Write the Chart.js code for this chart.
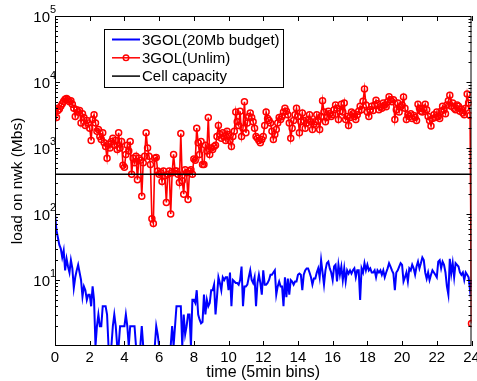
<!DOCTYPE html>
<html>
<head>
<meta charset="utf-8">
<script src="https://cdn.jsdelivr.net/npm/chart.js@4.4.1/dist/chart.umd.min.js"></script>
<style>
  html, body { margin: 0; padding: 0; background: #fff; }
  canvas { display: block; }
</style>
</head>
<body>
<canvas id="chart" width="477" height="381"></canvas>
<script>
// time axis: 5 min bins over 24 hours (289 samples, 0..24)
const xTicks = [0, 2, 4, 6, 8, 10, 12, 14, 16, 18, 20, 22, 24];
const yExponents = [1, 2, 3, 4, 5];
const capacity = 400;

// 3GOL(Unlim), Mbs, one row per hour
const unlim = [
  4000, 2900, 3700, 3900, 4300, 4700, 5100, 5500, 5600, 5400, 5000, 5200,
  4600, 4000, 3000, 3800, 3500, 3700, 2400, 3300, 2900, 2200, 2600, 2400,
  2000, 1300, 2700, 3200, 2400, 1800, 1900, 1500, 1350, 1700, 1200, 1050,
  700, 1150, 1000, 1250, 1400, 1100, 1300, 950, 1700, 1000, 1250, 550,
  510, 800, 1100, 900, 1250, 400, 700, 600, 750, 330, 700, 650,
  186, 600, 750, 1700, 1000, 750, 560, 85, 72, 700, 720, 450,
  400, 420, 310, 450, 380, 150, 400, 450, 100, 420, 800, 450,
  450, 400, 300, 1660, 320, 200, 470, 420, 166, 450, 470, 400,
  680, 650, 2000, 1200, 800, 1260, 560, 560, 1100, 900, 2900, 800,
  1000, 950, 1050, 1100, 1500, 2200, 1600, 1400, 1700, 1500, 1300, 1800,
  1600, 1300, 1050, 1500, 1800, 3500, 2500, 2200, 3600, 1500, 2000, 5000,
  1700, 2400, 3000, 3400, 2900, 2500, 2000, 1500, 1400, 1300, 1200, 1350,
  1500, 2200, 3500, 2800, 2600, 2400, 1800, 1350, 1600, 1900, 2400, 2900,
  2700, 3000, 3500, 4000, 3600, 3200, 2400, 1400, 2000, 2600, 3200, 4000,
  3000, 1700, 2500, 3400, 2600, 2000, 2400, 2700, 3200, 2500, 1900, 2300,
  2500, 3200, 2600, 1900, 3000, 5200, 3500, 2500, 2900, 3600, 3300, 3000,
  3200, 3800, 4500, 4000, 2700, 3600, 4600, 3500, 4800, 2700, 3000, 2200,
  2900, 3500, 3300, 3000, 2700, 3200, 3600, 4300, 3800, 5100, 7800, 4500,
  3500, 3000, 3800, 4300, 3700, 4500, 5300, 4700, 3800, 4200, 4000, 4800,
  4500, 4200, 5000, 6000, 5400, 5000, 5400, 2700, 3800, 4800, 3500, 4200,
  4500, 5900, 4000, 2700, 3200, 3000, 3300, 2800, 3100, 2900, 2600, 4600,
  4000, 3600, 3500, 4000, 4600, 3800, 3000, 2600, 2150, 2800, 3200, 2900,
  3500, 3000, 2800, 3600, 4300, 3800, 3300, 4500, 5200, 6300, 4300, 4800,
  4000, 3800, 4500, 4300, 3600, 3900, 3400, 3200, 4000, 6600, 4800, 3100, 2.2
];

// 3GOL(20Mb budget), Mbs
const budget = [
  100, 57, 44, 34, 30, 22, 28, 14, 21, 16, 13, 20,
  15, 7.6, 11, 14, 17, 13, 10, 5.6, 8, 7, 5, 6,
  6, 4, 8, 5, 1, 2, 3, 2, 2, 4, 4, 4,
  3, 1, 1, 1, 2, 3, 2, 1, 1, 2, 2, 2,
  2, 3, 2, 1, 2, 2, 2, 2, 1, 1, 1, 1,
  2, 1, 1, 1, 1, 1, 1, 1, 1, 1, 2, 1.5,
  1, 1, 1, 1, 1, 1, 1, 1, 1, 2, 1, 2,
  4, 4, 4, 4, 1, 3, 1.5, 2, 3, 3, 1, 5,
  5, 4.5, 7, 3, 2.5, 2.2, 2.3, 6, 3, 5, 4, 4.5,
  7, 7, 8.5, 3, 5.5, 11, 9, 7, 11, 10, 11, 11,
  7, 13, 4, 10, 9.5, 9, 9, 8.5, 10, 16, 4, 8,
  8, 8.5, 11, 14, 10, 9, 11, 4, 9, 12, 9, 6,
  14, 8.5, 8.5, 9, 10, 12, 12, 13, 14, 6, 8, 9.5,
  8, 8, 4, 11, 5.5, 10.5, 6, 10, 9.5, 8.5, 9.5, 9.5,
  12, 12.5, 12, 7, 12, 14, 15, 15, 13, 11, 8.5, 10.5,
  10.5, 13, 15, 11, 20, 13, 8.5, 14, 18, 19, 15, 13,
  10, 16, 17, 9.5, 17, 12, 16, 10, 15, 9.5, 14, 12.5,
  14, 12.5, 14, 15, 11, 14, 14, 5, 15, 13, 18, 14,
  17, 14, 15, 13, 13, 14, 11, 14, 13, 14, 12, 14,
  11, 13, 15, 18, 16, 14, 12.5, 7, 13, 14, 16, 18,
  17, 9.5, 11, 13, 9.5, 15, 14, 17, 15, 12, 16, 19,
  15, 18, 22, 20, 13, 10.5, 13, 10, 12, 14, 13, 12,
  11, 19, 20, 15, 19, 17, 13, 8, 6, 21, 12.5, 18,
  11, 18, 17, 16, 13, 12, 13, 10, 13, 12, 11, 7, 10
];

const FONT = '"Liberation Sans", Arial, Helvetica, sans-serif';
const toPoints = arr => arr.map((v, i) => ({ x: i / 12, y: v }));

// MATLAB style box, inward ticks, labels and legend
const matlabAxes = {
  id: 'matlabAxes',
  afterDatasetsDraw(chart) {
    const { ctx, chartArea: a, scales: { x, y } } = chart;
    ctx.save();
    ctx.strokeStyle = '#000';
    ctx.lineWidth = 1;
    ctx.strokeRect(a.left + 0.5, a.top + 0.5, a.right - a.left - 1, a.bottom - a.top - 1);

    ctx.beginPath();
    xTicks.forEach(t => {
      const px = Math.round(x.getPixelForValue(t)) + 0.5;
      ctx.moveTo(px, a.bottom); ctx.lineTo(px, a.bottom - 5);
      ctx.moveTo(px, a.top); ctx.lineTo(px, a.top + 5);
    });
    for (let e = 0; e <= 4; e++) {
      for (let m = 1; m <= 9; m++) {
        const v = m * Math.pow(10, e);
        if (v <= 1) continue;
        const py = Math.round(y.getPixelForValue(v)) + 0.5;
        const len = m === 1 ? 5 : 3;
        ctx.moveTo(a.left, py); ctx.lineTo(a.left + len, py);
        ctx.moveTo(a.right, py); ctx.lineTo(a.right - len, py);
      }
    }
    ctx.stroke();

    ctx.fillStyle = '#000';
    ctx.font = '15px ' + FONT;
    ctx.textAlign = 'center';
    ctx.textBaseline = 'middle';
    xTicks.forEach(t => ctx.fillText(String(t), x.getPixelForValue(t), a.bottom + 12));
    ctx.font = '16px ' + FONT;
    ctx.fillText('time (5min bins)', (a.left + a.right) / 2, a.bottom + 27);

    yExponents.forEach(e => {
      const py = y.getPixelForValue(Math.pow(10, e));
      ctx.font = '15px ' + FONT;
      ctx.textAlign = 'right';
      ctx.fillText('10', a.left - 5, py + 2);
      ctx.font = '11px ' + FONT;
      ctx.textAlign = 'left';
      ctx.fillText(String(e), a.left - 5, py - 6);
    });

    ctx.save();
    ctx.translate(18, (a.top + a.bottom) / 2);
    ctx.rotate(-Math.PI / 2);
    ctx.font = '15.5px ' + FONT;
    ctx.textAlign = 'center';
    ctx.fillText('load on nwk (Mbs)', 0, 0);
    ctx.restore();

    // legend
    const lx = 104, ly = 29, lw = 179, lh = 58;
    ctx.fillStyle = '#fff';
    ctx.fillRect(lx, ly, lw, lh);
    ctx.strokeStyle = '#000';
    ctx.lineWidth = 1;
    ctx.strokeRect(lx + 0.5, ly + 0.5, lw, lh);
    const entries = [
      { label: '3GOL(20Mb budget)', color: '#0000ff', width: 2, marker: false },
      { label: '3GOL(Unlim)', color: '#ff0000', width: 1.5, marker: true },
      { label: 'Cell capacity', color: '#000000', width: 1.5, marker: false }
    ];
    entries.forEach((en, k) => {
      const cy = ly + 10.5 + k * 18.3;
      ctx.strokeStyle = en.color;
      ctx.lineWidth = en.width;
      ctx.beginPath();
      ctx.moveTo(lx + 8, cy); ctx.lineTo(lx + 36, cy);
      ctx.stroke();
      if (en.marker) {
        ctx.lineWidth = 1.4;
        ctx.beginPath();
        ctx.arc(lx + 22, cy, 2.8, 0, Math.PI * 2);
        ctx.stroke();
      }
      ctx.fillStyle = '#000';
      ctx.font = '15px ' + FONT;
      ctx.textAlign = 'left';
      ctx.fillText(en.label, lx + 38, cy + 1);
    });
    ctx.restore();
  }
};

new Chart(document.getElementById('chart'), {
  type: 'line',
  data: {
    datasets: [
      {
        label: '3GOL(20Mb budget)',
        data: toPoints(budget),
        borderColor: '#0000ff',
        borderWidth: 2,
        pointRadius: 0,
        tension: 0,
        order: 2
      },
      {
        label: '3GOL(Unlim)',
        data: toPoints(unlim),
        borderColor: '#ff0000',
        borderWidth: 1.6,
        pointRadius: 3,
        pointBorderWidth: 1.5,
        pointBorderColor: '#ff0000',
        pointBackgroundColor: 'rgba(255,255,255,0)',
        tension: 0,
        order: 1
      },
      {
        label: 'Cell capacity',
        data: [{ x: 0, y: capacity }, { x: 24, y: capacity }],
        borderColor: '#000000',
        borderWidth: 1.5,
        pointRadius: 0,
        order: 0
      }
    ]
  },
  options: {
    responsive: false,
    animation: false,
    devicePixelRatio: 1,
    layout: { padding: { left: 55, right: 3, top: 16, bottom: 35 } },
    plugins: { legend: { display: false }, tooltip: { enabled: false } },
    scales: {
      x: { type: 'linear', min: 0, max: 24, display: false },
      y: { type: 'logarithmic', min: 1, max: 100000, display: false }
    }
  },
  plugins: [matlabAxes]
});
</script>
</body>
</html>
